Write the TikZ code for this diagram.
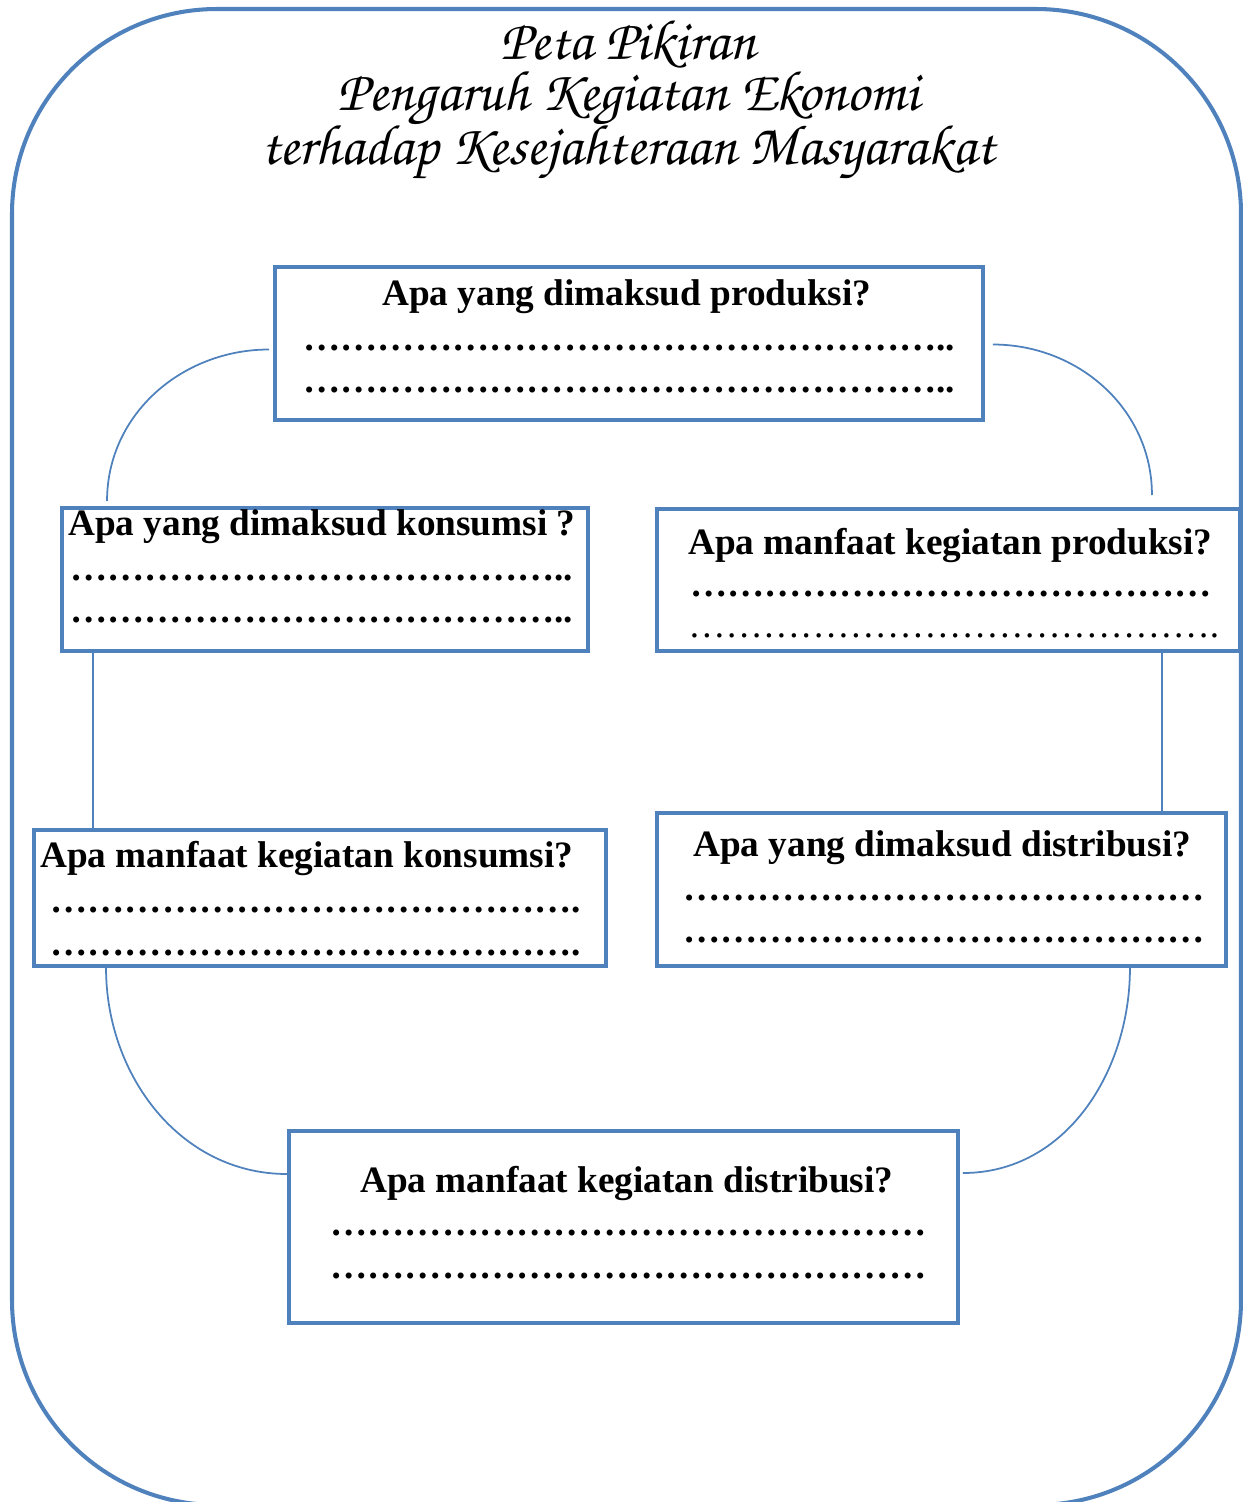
\documentclass[tikz,border=0pt]{standalone}
\usepackage{fontspec}
\setmainfont{Liberation Serif}
\newfontfamily\judulfont{texgyrechorus-mediumitalic.otf}
\usepackage{tikz}
\usetikzlibrary{calc}
\definecolor{birupeta}{RGB}{79,129,189}
\newcommand{\elipsis}[1]{\foreach \k in {1,...,#1}{…}}
\tikzset{
    kotak/.style={draw=birupeta, line width=2.3pt, rectangle, inner sep=0pt},
    tanya/.style={anchor=west, inner sep=0pt, font=\fontsize{21.2}{25}\selectfont\bfseries},
    titik/.style={anchor=west, inner sep=0pt, font=\fontsize{21.2}{25}\selectfont\bfseries},
    titiktipis/.style={anchor=west, inner sep=0pt, font=\fontsize{21.2}{25}\selectfont},
    garis/.style={draw=birupeta, line width=1pt}
}

\begin{document}
\begin{tikzpicture}[x=0.02cm, y=-0.02cm]
    \useasboundingbox (0,0) rectangle (1243,1502);
    % Outer frame
    \draw[birupeta, line width=2.3pt, rounded corners=4.1cm] (12,9) rectangle (1241,1505);

    % Title
    \node (judul) at (628,100) [align=center, font=\judulfont\fontsize{32.5}{29}\selectfont]
        {Peta Pikiran\\Pengaruh Kegiatan Ekonomi\\terhadap Kesejahteraan Masyarakat};

    % Boxes
    \node (produksi) at (629,343.5) [kotak, minimum width=14.16cm, minimum height=3.06cm] {};
    \node (konsumsi) at (325,579.5) [kotak, minimum width=10.52cm, minimum height=2.86cm] {};
    \node (manfaatprod) at (948.5,580) [kotak, minimum width=11.66cm, minimum height=2.84cm] {};
    \node (manfaatkons) at (320,898) [kotak, minimum width=11.44cm, minimum height=2.72cm] {};
    \node (distribusi) at (941.5,889.5) [kotak, minimum width=11.38cm, minimum height=3.06cm] {};
    \node (manfaatdist) at (623.5,1227) [kotak, minimum width=13.38cm, minimum height=3.84cm] {};

    % Top box
    \node (q1) at (382,297) [tanya] {Apa yang dimaksud produksi?};
    \node (d1a) at (303,348) [titik] {\elipsis{17}..};
    \node (d1b) at (303,390) [titik] {\elipsis{17}..};

    % Left upper box
    \node (q2) at (68,527) [tanya] {Apa yang dimaksud konsumsi ?};
    \node (d2a) at (70,578) [titik] {\elipsis{13}..};
    \node (d2b) at (70,620) [titik] {\elipsis{13}..};

    % Right upper box
    \node (q3) at (688,545) [tanya] {Apa manfaat kegiatan produksi?};
    \node (d3a) at (690,594) [titik] {\elipsis{14}};
    \node (d3b) at (688,636) [titiktipis] {\elipsis{14}.};

    % Left lower box
    \node (q4) at (40,858) [tanya] {Apa manfaat kegiatan konsumsi?};
    \node (d4a) at (50,910) [titik] {\elipsis{14}.};
    \node (d4b) at (50,953) [titik] {\elipsis{14}.};

    % Right lower box
    \node (q5) at (693,848) [tanya] {Apa yang dimaksud distribusi?};
    \node (d5a) at (683,898) [titik] {\elipsis{14}};
    \node (d5b) at (683,940) [titik] {\elipsis{14}};

    % Bottom box
    \node (q6) at (360,1183) [tanya] {Apa manfaat kegiatan distribusi?};
    \node (d6a) at (330,1233) [titik] {\elipsis{16}};
    \node (d6b) at (330,1276) [titik] {\elipsis{16}};

    % Connectors
    \coordinate (kiri) at ($(konsumsi.south west)+(33,0)$);
    \coordinate (kanan) at ($(manfaatprod.south east)+(-80,0)$);
    \draw[garis] ($(produksi.west)+(-4,6)$) to[out=180,in=90] ($(konsumsi.north west)+(47,-5)$);
    \draw[garis] ($(produksi.east)+(8,1)$) to[out=0,in=90] ($(manfaatprod.north east)+(-90,-12)$);
    \draw[garis] (kiri) -- (kiri |- manfaatkons.north);
    \draw[garis] (kanan) -- (kanan |- distribusi.north);
    \draw[garis] ($(manfaatkons.south west)+(74,0)$) to[out=-90,in=180] ($(manfaatdist.west)+(0,-53)$);
    \draw[garis] ($(distribusi.south east)+(-98,0)$) to[out=-90,in=0] ($(manfaatdist.east)+(3,-54)$);
\end{tikzpicture}
\end{document}
